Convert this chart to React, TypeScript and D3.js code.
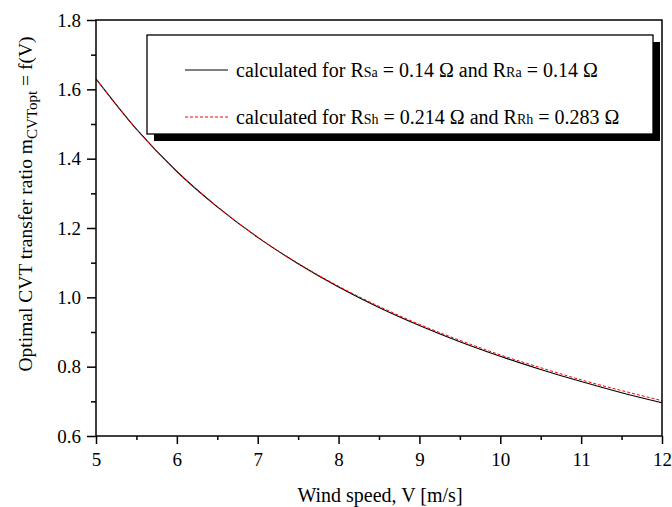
import React, { useEffect, useRef } from "react";
import * as d3 from "d3";

// wind speed [m/s]
const speeds = [5, 5.5, 6, 6.5, 7, 7.5, 8, 8.5, 9, 9.5, 10, 10.5, 11, 11.5, 12];
// Rsa = 0.14, Rra = 0.14
const ratioA = [1.63, 1.485, 1.363, 1.261, 1.173, 1.097, 1.03, 0.971, 0.919, 0.872, 0.83, 0.792, 0.757, 0.725, 0.696];
// Rsh = 0.214, Rrh = 0.283
const ratioH = [1.63, 1.485, 1.363, 1.262, 1.174, 1.098, 1.032, 0.974, 0.922, 0.876, 0.834, 0.797, 0.762, 0.731, 0.702];

const xTicks = [5, 6, 7, 8, 9, 10, 11, 12];
const yTicks = [0.6, 0.8, 1.0, 1.2, 1.4, 1.6, 1.8];

const W = 672, H = 507;
const FONT = "'Liberation Serif', 'Times New Roman', serif";

const App = () => {
  const svgRef = useRef(null);

  useEffect(() => {
    const svg = d3.select(svgRef.current);
    svg.selectAll("*").remove();

    const left = 96, right = 662, top = 20, bottom = 436;
    const x = d3.scaleLinear().domain([5, 12]).range([left, right]);
    const y = d3.scaleLinear().domain([0.6, 1.8]).range([bottom, top]);

    svg.append("rect").attr("width", W).attr("height", H).attr("fill", "#fff");

    // curves
    const line = d3.line<number>()
      .x((d, i) => x(speeds[i]))
      .y((d) => y(d))
      .curve(d3.curveMonotoneX);

    svg.append("path")
      .attr("d", line(ratioA))
      .attr("fill", "none")
      .attr("stroke", "#000")
      .attr("stroke-width", 1.1);

    svg.append("path")
      .attr("d", line(ratioH))
      .attr("fill", "none")
      .attr("stroke", "#ff0000")
      .attr("stroke-width", 1)
      .attr("stroke-dasharray", "3,2");

    // frame
    svg.append("rect")
      .attr("x", left).attr("y", top)
      .attr("width", right - left).attr("height", bottom - top)
      .attr("fill", "none")
      .attr("stroke", "#000")
      .attr("stroke-width", 1.5);

    // x axis
    const xAxis = svg.append("g")
      .attr("transform", `translate(0,${bottom})`)
      .call(d3.axisBottom(x).tickValues(xTicks).tickSize(8).tickPadding(9).tickFormat(d3.format("d")));
    xAxis.select(".domain").remove();
    xAxis.selectAll(".tick line").attr("stroke-width", 1.5);
    xAxis.selectAll(".tick text")
      .attr("font-family", FONT).attr("font-size", 19).attr("fill", "#000");

    const xMinor = svg.append("g")
      .attr("transform", `translate(0,${bottom})`)
      .call(d3.axisBottom(x).tickValues(d3.range(5.5, 12, 1)).tickSize(4).tickFormat(() => ""));
    xMinor.select(".domain").remove();
    xMinor.selectAll(".tick line").attr("stroke-width", 1.5);

    // y axis
    const yAxis = svg.append("g")
      .attr("transform", `translate(${left},0)`)
      .call(d3.axisLeft(y).tickValues(yTicks).tickSize(9).tickPadding(6).tickFormat(d3.format(".1f")));
    yAxis.select(".domain").remove();
    yAxis.selectAll(".tick line").attr("stroke-width", 1.5);
    yAxis.selectAll(".tick text")
      .attr("font-family", FONT).attr("font-size", 19).attr("fill", "#000");

    const yMinor = svg.append("g")
      .attr("transform", `translate(${left},0)`)
      .call(d3.axisLeft(y).tickValues([0.7, 0.9, 1.1, 1.3, 1.5, 1.7]).tickSize(5).tickFormat(() => ""));
    yMinor.select(".domain").remove();
    yMinor.selectAll(".tick line").attr("stroke-width", 1.5);

    // axis titles
    svg.append("text")
      .attr("x", 380)
      .attr("y", 502)
      .attr("text-anchor", "middle")
      .attr("font-family", FONT).attr("font-size", 20)
      .text("Wind speed, V [m/s]");

    const yt = svg.append("text")
      .attr("transform", "translate(32,204) rotate(-90)")
      .attr("text-anchor", "middle")
      .attr("font-family", FONT).attr("font-size", 19.5);
    yt.append("tspan").text("Optimal CVT transfer ratio m");
    yt.append("tspan").attr("font-size", 15).attr("dy", 5).text("CVTopt");
    yt.append("tspan").attr("dy", -5).text(" = f(V)");

    // legend
    const lg = { x: 147, y: 35, w: 506, h: 99 };
    svg.append("rect")
      .attr("x", lg.x + 7).attr("y", lg.y + 7)
      .attr("width", lg.w).attr("height", lg.h)
      .attr("fill", "#000");
    svg.append("rect")
      .attr("x", lg.x).attr("y", lg.y)
      .attr("width", lg.w).attr("height", lg.h)
      .attr("fill", "#fff")
      .attr("stroke", "#000")
      .attr("stroke-width", 1.3);

    const rows = [
      { yy: 70, color: "#000", dash: null, s: "Sa", sv: "0.14", r: "Ra", rv: "0.14" },
      { yy: 117, color: "#ff0000", dash: "3,2", s: "Sh", sv: "0.214", r: "Rh", rv: "0.283" },
    ];
    rows.forEach((row) => {
      svg.append("line")
        .attr("x1", 185).attr("x2", 228)
        .attr("y1", row.yy).attr("y2", row.yy)
        .attr("stroke", row.color)
        .attr("stroke-width", 1)
        .attr("stroke-dasharray", row.dash);
      const t = svg.append("text")
        .attr("x", 236).attr("y", row.yy + 7)
        .attr("font-family", FONT).attr("font-size", 20);
      t.append("tspan").text("calculated for R");
      t.append("tspan").attr("font-size", 14).text(row.s);
      t.append("tspan").text(` = ${row.sv} \u03A9 and R`);
      t.append("tspan").attr("font-size", 14).text(row.r);
      t.append("tspan").text(` = ${row.rv} \u03A9`);
    });
  }, []);

  return (
    <svg
      ref={svgRef}
      width={W}
      height={H}
      style={{ position: "absolute", left: 0, top: 0, display: "block" }}
    ></svg>
  );
};

export default App;
